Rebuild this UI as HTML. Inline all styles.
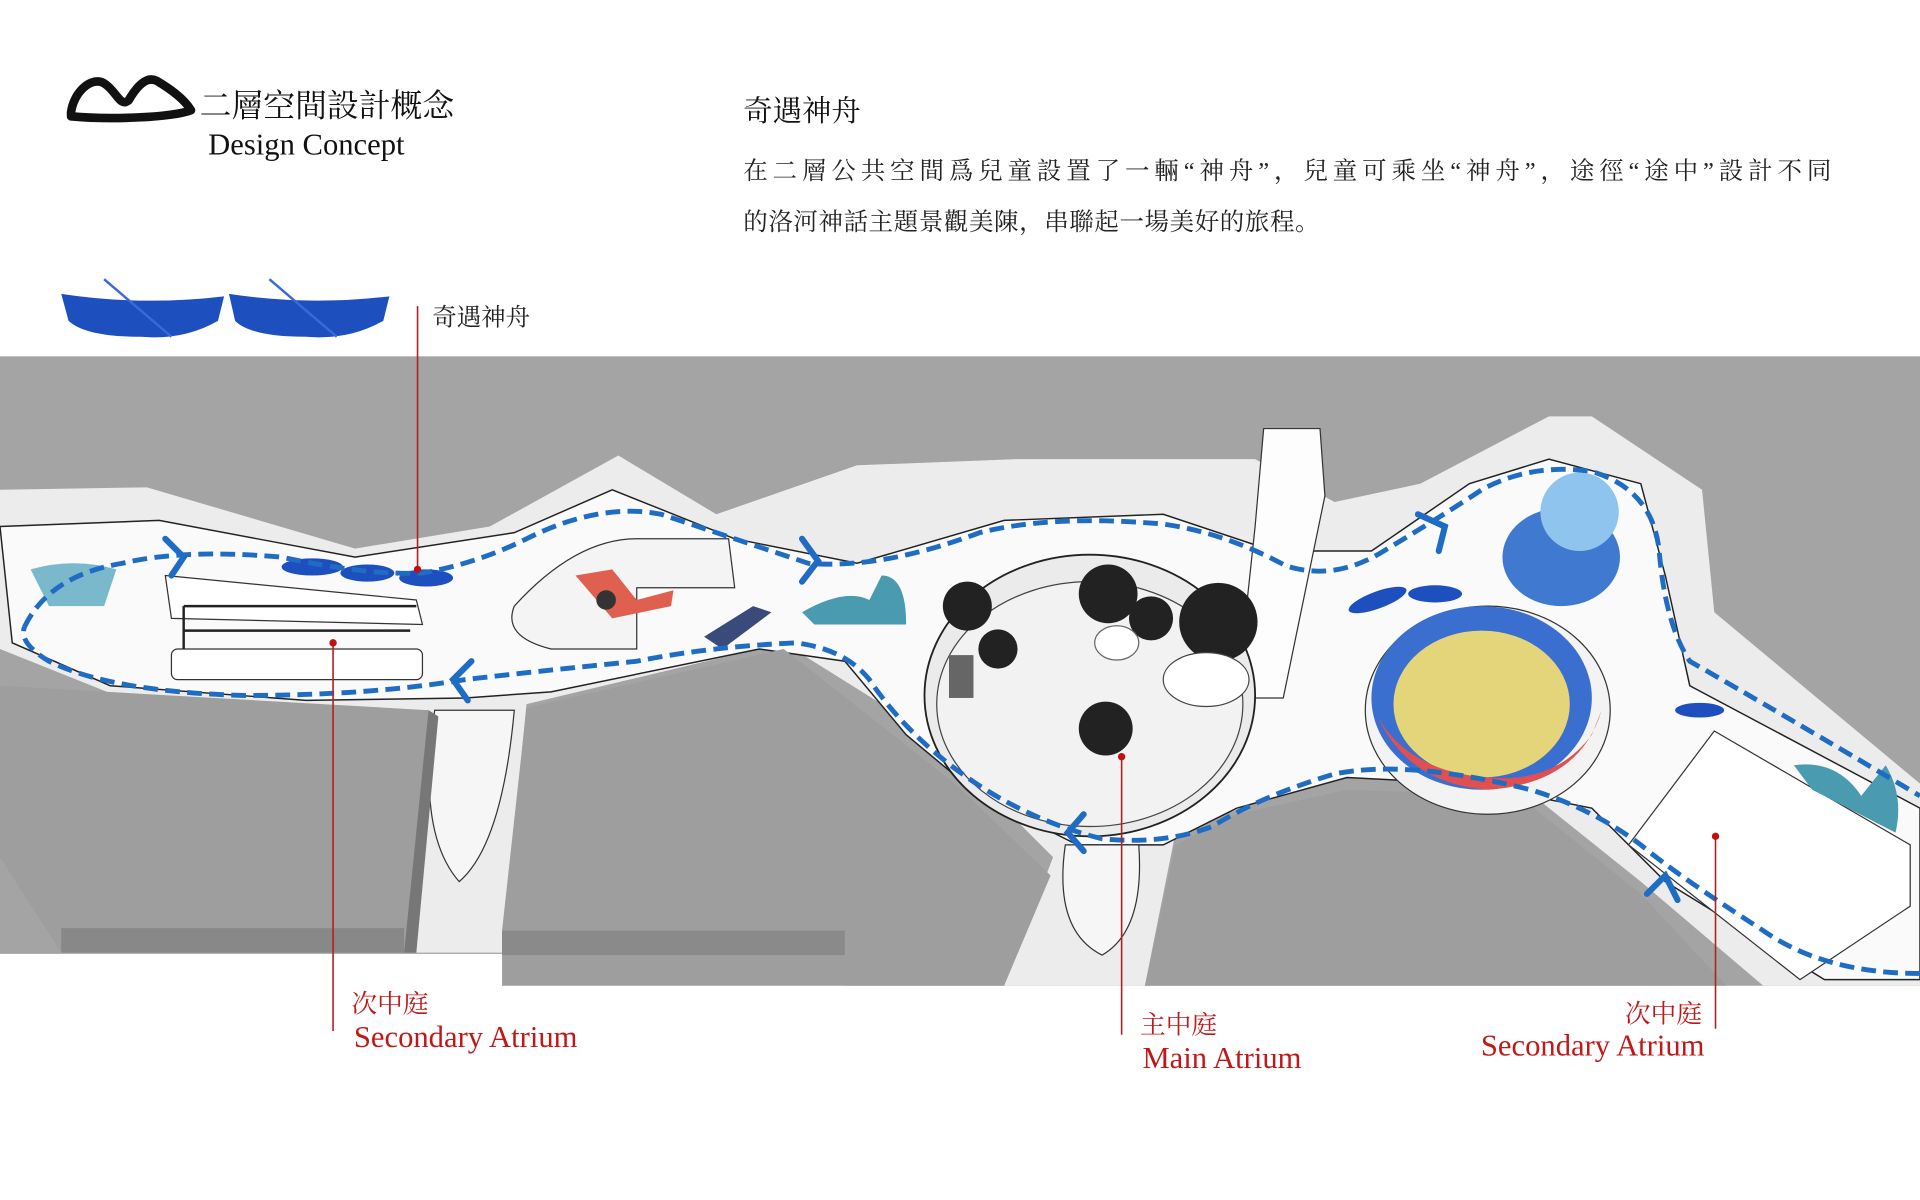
<!DOCTYPE html>
<html><head><meta charset="utf-8"><style>
html,body{margin:0;padding:0;background:#fff;width:1920px;height:1200px;overflow:hidden}
svg{display:block}
.cj{font-family:"Liberation Serif","Noto Serif CJK SC",serif}
</style></head><body>
<svg width="1920" height="1200" viewBox="0 0 1568 980" xmlns="http://www.w3.org/2000/svg">
<rect width="1568" height="980" fill="#fff"/>
<!-- header -->
<path d="M58 92 C60 75 75 62 85 68 C95 74 98 88 105 82 C112 70 120 62 128 66 C138 72 150 80 156 90 C140 96 90 98 58 95 Z" fill="none" stroke="#111" stroke-width="7" stroke-linejoin="round"/>
<text x="163" y="95" class="cj" font-size="26" fill="#111">二層空間設計概念</text>
<text x="170" y="126" class="cj" font-size="25" fill="#111">Design Concept</text>
<text x="607" y="99" class="cj" font-size="24" fill="#111">奇遇神舟</text>
<text x="607" y="146" class="cj" font-size="20" fill="#222" letter-spacing="4">在二層公共空間爲兒童設置了一輛“神舟”，兒童可乘坐“神舟”，途徑“途中”設計不同</text>
<text x="607" y="188" class="cj" font-size="20" fill="#222" letter-spacing="0.5">的洛河神話主題景觀美陳，串聯起一場美好的旅程。</text>
<!-- boats -->
<g fill="#1d4fbf">
<path d="M50 240 Q115 250 183 242 L178 262 Q150 278 115 275 Q70 275 56 262 Z"/>
<path d="M187 240 Q252 250 318 242 L313 262 Q285 278 250 275 Q205 275 192 262 Z"/>
</g>
<g stroke="#3a6ad8" stroke-width="2"><line x1="85" y1="228" x2="140" y2="275"/><line x1="220" y1="228" x2="275" y2="275"/></g>
<text x="353" y="266" class="cj" font-size="20" fill="#222">奇遇神舟</text>
<!-- plan background -->
<rect x="0" y="291" width="1568" height="514" fill="#a4a4a4"/>
<rect x="0" y="779" width="690" height="30" fill="#fff"/>
<!-- outer slab -->
<path d="M0 400 L120 398 L290 448 L400 430 L505 372 L585 420 L700 380 L830 375 L1025 375 L1090 410 L1160 395 L1265 340 L1300 340 L1390 400 L1400 500 L1568 640 L1568 805 L1440 805 L1340 720 L1240 640 L1100 628 L960 680 L935 805 L820 805 L860 700 L760 600 L640 525 L430 575 L410 778 L340 778 L350 580 L100 570 L0 530 Z" fill="#ececec"/>
<!-- walkway -->
<path d="M0 430 L130 425 L290 455 L420 435 L500 400 L600 440 L700 460 L820 425 L950 420 L1040 450 L1120 450 L1200 395 L1265 375 L1340 395 L1360 470 L1380 560 L1568 660 L1568 800 L1490 800 L1360 720 L1300 660 L1200 640 L1100 635 L1010 660 L950 690 L880 690 L800 650 L740 600 L690 540 L620 530 L450 565 L380 570 L250 572 L90 560 L10 525 Z" fill="#fafafa" stroke="#222" stroke-width="1.2"/>
<path d="M355 580 Q340 680 375 720 Q410 690 420 580 Z" fill="#f6f6f6" stroke="#333" stroke-width="1"/>
<path d="M870 690 Q860 760 900 780 Q935 760 930 690 Z" fill="#f6f6f6" stroke="#333" stroke-width="1"/>
<!-- grey blocks shading -->
<path d="M0 560 L350 580 L330 778 L50 778 L0 700 Z" fill="#9e9e9e"/>
<path d="M330 778 L350 580 L358 585 L340 778 Z" fill="#777"/>
<path d="M50 758 L330 758 L330 778 L50 778 Z" fill="#888"/>
<path d="M430 578 L640 530 L780 640 L858 715 L820 805 L410 805 L410 760 Z" fill="#9e9e9e"/>
<path d="M410 760 L690 760 L690 780 L410 780 Z" fill="#8a8a8a"/>
<path d="M960 690 L1010 665 L1100 645 L1240 650 L1340 730 L1410 805 L935 805 Z" fill="#9e9e9e"/>
<!-- tower -->
<path d="M1032 350 L1078 350 L1082 405 L1048 570 L1010 570 L1025 430 Z" fill="#fdfdfd" stroke="#333" stroke-width="1"/>
<!-- main atrium -->
<ellipse cx="890" cy="568" rx="135" ry="115" fill="#ebebeb" stroke="#222" stroke-width="1.5"/>
<ellipse cx="890" cy="575" rx="125" ry="100" fill="#f2f2f2" stroke="#444" stroke-width="1"/>
<g fill="#222"><circle cx="790" cy="495" r="20"/><circle cx="905" cy="485" r="24"/><circle cx="940" cy="505" r="18"/><circle cx="995" cy="508" r="32"/><circle cx="815" cy="530" r="16"/><circle cx="903" cy="595" r="22"/></g>
<ellipse cx="912" cy="525" rx="18" ry="14" fill="#fff" stroke="#666"/>
<ellipse cx="985" cy="555" rx="35" ry="22" fill="#fff" stroke="#444"/>
<rect x="775" y="535" width="20" height="35" fill="#666"/>
<!-- left atrium rows -->
<path d="M135 470 L340 490 L345 510 L140 505 Z" fill="#fff" stroke="#333"/>
<rect x="140" y="530" width="205" height="25" rx="5" fill="#fff" stroke="#333"/>
<g stroke="#222" stroke-width="2" fill="none"><path d="M150 495 H340 M150 515 H335 M150 495 V530"/></g>
<!-- play area 2 -->
<path d="M420 495 Q470 440 520 440 L595 440 L600 480 L520 480 L520 530 L450 530 Q410 520 420 495Z" fill="#f4f4f4" stroke="#333"/>
<path d="M470 470 L500 465 L520 490 L550 482 L548 495 L500 505 Z" fill="#e06050"/>
<circle cx="495" cy="490" r="8" fill="#333"/>
<path d="M575 520 L615 495 L630 500 L590 530 Z" fill="#3a4a7a"/>
<path d="M655 500 Q690 480 710 490 L720 470 Q740 470 740 510 L665 510 Z" fill="#4a9ab0"/>
<!-- left vessel -->
<path d="M25 465 Q60 455 95 465 L85 495 L40 495 Z" fill="#7ab8cc"/>
<!-- boats on path -->
<g fill="#1d4fbf"><ellipse cx="255" cy="463" rx="25" ry="7"/><ellipse cx="300" cy="468" rx="22" ry="7"/><ellipse cx="348" cy="472" rx="22" ry="7"/>
<ellipse cx="1125" cy="490" rx="25" ry="7" transform="rotate(-20 1125 490)"/><ellipse cx="1172" cy="485" rx="22" ry="7"/><ellipse cx="1388" cy="580" rx="20" ry="6"/></g>
<!-- fountain -->
<ellipse cx="1275" cy="455" rx="48" ry="40" fill="#3f7ad0"/>
<circle cx="1290" cy="418" r="32" fill="#8ec4ee"/>
<!-- spin -->
<ellipse cx="1215" cy="580" rx="100" ry="85" fill="#f3f3f3" stroke="#333"/>
<ellipse cx="1210" cy="570" rx="90" ry="75" fill="#3b6fcf"/>
<ellipse cx="1210" cy="575" rx="72" ry="60" fill="#e4d47a"/>
<path d="M1125 585 Q1150 640 1215 645 Q1290 640 1308 580 L1300 600 Q1270 640 1215 635 Q1150 630 1125 585 Z" fill="#e05050"/>
<!-- white atrium right -->
<path d="M1400 597 L1560 690 L1560 740 L1470 800 L1330 690 Z" fill="#fff" stroke="#333"/>
<path d="M1465 625 Q1500 620 1520 650 L1540 625 Q1555 650 1548 680 L1480 645 Z" fill="#4a9ab0"/>
<!-- route -->
<path d="M20 512 Q40 470 100 460 Q150 448 230 455 Q300 470 345 468 Q390 460 430 440 Q490 410 540 420 Q600 440 660 460 Q720 465 800 435 Q860 420 950 428 Q1000 435 1050 462 Q1090 475 1130 450 Q1180 420 1210 400 Q1250 378 1300 385 Q1350 400 1355 450 Q1360 510 1380 540 Q1450 580 1568 650" fill="none" stroke="#1f6cc4" stroke-width="4" stroke-dasharray="12 6"/>
<path d="M1568 795 Q1490 795 1440 760 Q1370 715 1340 690 Q1300 660 1250 645 Q1150 620 1090 632 Q1030 650 990 675 Q950 690 900 685 Q840 670 790 635 Q740 600 710 555 Q690 530 650 525 Q580 528 520 540 Q440 548 380 555 Q300 568 200 568 Q90 565 40 540 Q15 525 20 512" fill="none" stroke="#1f6cc4" stroke-width="4" stroke-dasharray="12 6"/>
<g fill="none" stroke="#1f6cc4" stroke-width="5" stroke-linecap="round">
<path d="M135 440 L150 455 L140 470"/><path d="M655 440 L668 458 L655 475"/><path d="M1158 420 L1180 430 L1175 450"/>
<path d="M385 540 L370 555 L382 572"/><path d="M885 665 L872 680 L885 695"/><path d="M1345 730 L1360 715 L1370 735"/>
</g>
<!-- leader lines -->
<g stroke="#b02020" stroke-width="1.3"><line x1="341" y1="250" x2="341" y2="465"/><line x1="272" y1="525" x2="272" y2="842"/><line x1="916" y1="618" x2="916" y2="845"/><line x1="1401" y1="683" x2="1401" y2="840"/></g>
<g fill="#c01010"><circle cx="341" cy="465" r="3"/><circle cx="272" cy="525" r="3"/><circle cx="916" cy="618" r="3"/><circle cx="1401" cy="683" r="3"/></g>
<g class="cj" fill="#c01818">
<text x="287" y="827" font-size="21">次中庭</text>
<text x="289" y="855" font-size="25">Secondary Atrium</text>
<text x="931" y="844" font-size="21">主中庭</text>
<text x="933" y="872" font-size="25">Main Atrium</text>
<text x="1390" y="835" font-size="21" text-anchor="end">次中庭</text>
<text x="1392" y="862" font-size="25" text-anchor="end">Secondary Atrium</text>
</g>
</svg>
</body></html>
